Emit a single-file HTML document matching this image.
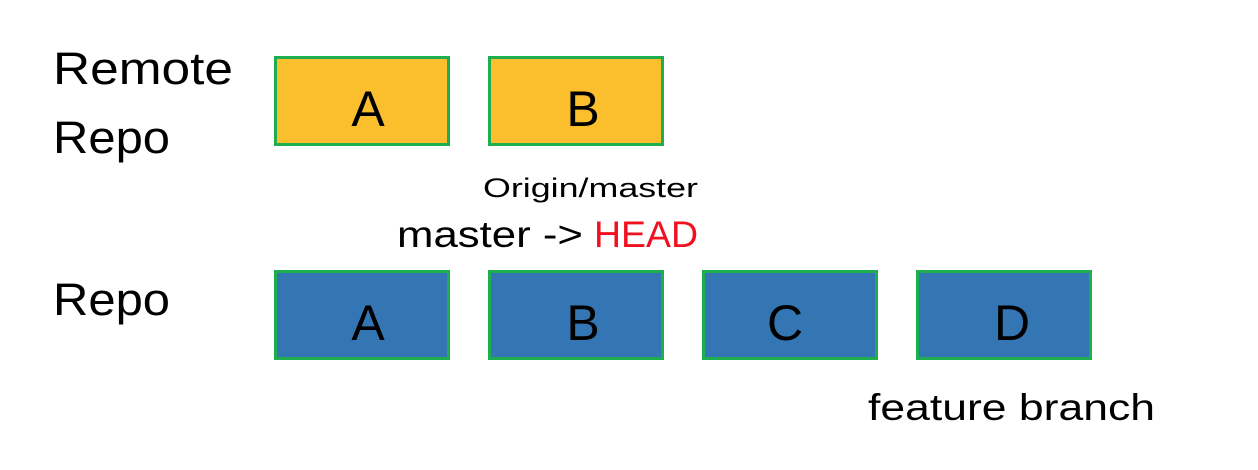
<!DOCTYPE html>
<html><head><meta charset="utf-8"><style>
html,body{margin:0;padding:0;background:#fff;width:1258px;height:470px;overflow:hidden}
text{font-family:"Liberation Sans",sans-serif;fill:#000}
</style></head><body>
<svg width="1258" height="470">
<text x="53" y="84" font-size="45" textLength="180" lengthAdjust="spacingAndGlyphs">Remote</text>
<text x="53" y="153" font-size="45" textLength="117" lengthAdjust="spacingAndGlyphs">Repo</text>
<text x="53" y="315" font-size="45" textLength="117" lengthAdjust="spacingAndGlyphs">Repo</text>

<g><rect x="275.5" y="57.5" width="173" height="87" fill="#fbbf2e" stroke="#1fae4f" stroke-width="3"/><text x="368" y="126" font-size="50" text-anchor="middle">A</text></g>
<g><rect x="489.5" y="57.5" width="173" height="87" fill="#fbbf2e" stroke="#1fae4f" stroke-width="3"/><text x="583" y="126" font-size="50" text-anchor="middle">B</text></g>

<text x="483" y="197" font-size="27" textLength="215" lengthAdjust="spacingAndGlyphs">Origin/master</text>
<text x="397" y="247" font-size="37" textLength="186" lengthAdjust="spacingAndGlyphs">master -&gt;</text>
<text x="594" y="247" font-size="37" textLength="104" lengthAdjust="spacingAndGlyphs" style="fill:#f01020">HEAD</text>

<g><rect x="275.5" y="271.5" width="173" height="87" fill="#3476b4" stroke="#1fae4f" stroke-width="3"/><text x="368" y="340" font-size="50" text-anchor="middle">A</text></g>
<g><rect x="489.5" y="271.5" width="173" height="87" fill="#3476b4" stroke="#1fae4f" stroke-width="3"/><text x="583" y="340" font-size="50" text-anchor="middle">B</text></g>
<g><rect x="703.5" y="271.5" width="173" height="87" fill="#3476b4" stroke="#1fae4f" stroke-width="3"/><text x="785" y="340" font-size="50" text-anchor="middle">C</text></g>
<g><rect x="917.5" y="271.5" width="173" height="87" fill="#3476b4" stroke="#1fae4f" stroke-width="3"/><text x="1012" y="340" font-size="50" text-anchor="middle">D</text></g>

<text x="868" y="420" font-size="37" textLength="287" lengthAdjust="spacingAndGlyphs">feature branch</text>
</svg>
</body></html>
